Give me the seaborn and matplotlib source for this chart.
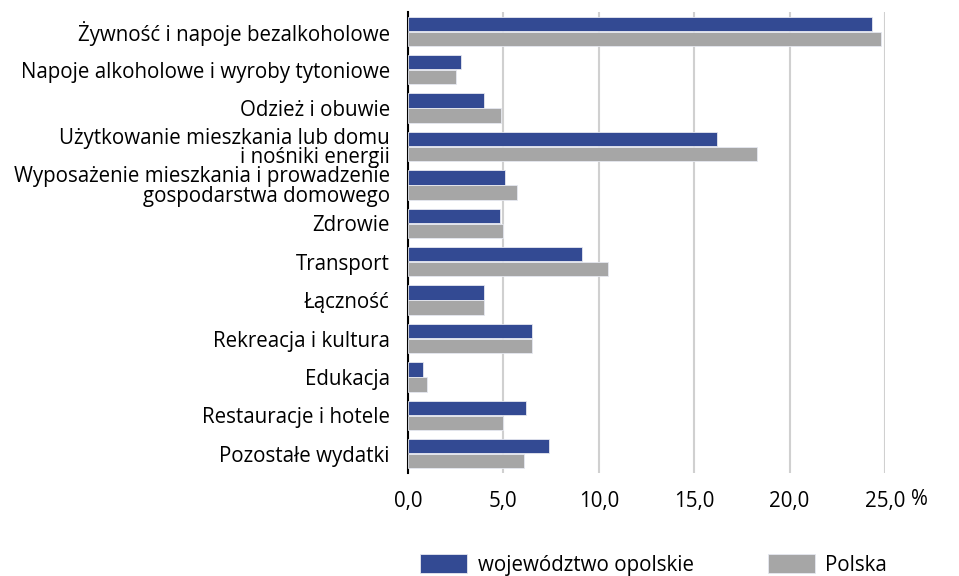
import numpy as np
import pandas as pd
import seaborn as sns
import matplotlib.pyplot as plt

categories = [
    'Żywność i napoje bezalkoholowe',
    'Napoje alkoholowe i wyroby tytoniowe',
    'Odzież i obuwie',
    'Użytkowanie mieszkania lub domu\ni nośniki energii',
    'Wyposażenie mieszkania i prowadzenie\ngospodarstwa domowego',
    'Zdrowie',
    'Transport',
    'Łączność',
    'Rekreacja i kultura',
    'Edukacja',
    'Restauracje i hotele',
    'Pozostałe wydatki',
]
opolskie = [24.3, 2.8, 4.0, 16.2, 5.1, 4.8, 9.1, 4.0, 6.5, 0.8, 6.2, 7.4]
polska = [24.8, 2.5, 4.9, 18.3, 5.7, 5.0, 10.5, 4.0, 6.5, 1.0, 5.0, 6.1]
series = ['województwo opolskie', 'Polska']
xticks = [0, 5, 10, 15, 20, 25]
xticklabels = ['0,0', '5,0', '10,0', '15,0', '20,0', '25,0']

df = pd.DataFrame({
    'kategoria': categories * 2,
    'wartosc': opolskie + polska,
    'seria': [series[0]] * len(categories) + [series[1]] * len(categories),
})

sns.set_style('white')
plt.rcParams['font.family'] = ['Open Sans', 'DejaVu Sans']
plt.rcParams['text.color'] = 'black'
plt.rcParams['xtick.color'] = 'black'
plt.rcParams['ytick.color'] = 'black'

fs = 14.8

fig = plt.figure(figsize=(9.59, 5.76), dpi=100)
ax = fig.add_axes([408 / 959, 1 - 473 / 576, (885 - 408) / 959, (473 - 12) / 576])

sns.barplot(data=df, y='kategoria', x='wartosc', hue='seria', orient='h',
            palette=['#334A93', '#A6A6A6'], saturation=1, width=0.78, gap=0.04,
            linewidth=0.6, edgecolor='#E6E8F0', ax=ax, zorder=3)

ax.set_xlim(0, 25)
ax.set_xticks(xticks)
ax.set_xticklabels(xticklabels, fontsize=fs)
ax.xaxis.grid(True, color='#D0D0D0', lw=1.5, zorder=0)
ax.set_axisbelow(True)
ax.tick_params(axis='y', labelsize=fs, pad=13, length=0, labelcolor='black')
ax.tick_params(axis='x', pad=13, length=0, labelcolor='black')
for lab in ax.get_yticklabels():
    lab.set_linespacing(0.9)
for s in ['top', 'right', 'bottom']:
    ax.spines[s].set_visible(False)
ax.spines['left'].set_color('black')
ax.spines['left'].set_linewidth(1.5)
ax.set_xlabel('')
ax.set_ylabel('')

ax.annotate('%', xy=(25, 0), xycoords=('data', 'axes fraction'),
            xytext=(18.5, -19), textcoords='offset points',
            ha='left', va='center', fontsize=fs)

ax.legend(loc='upper center', bbox_to_anchor=(0.5 + 7 / 477, -0.135), ncol=2,
          frameon=False, fontsize=fs, handlelength=2.3, handleheight=1.1,
          columnspacing=3.6, handletextpad=0.5)

plt.savefig('out.png', dpi=100)
